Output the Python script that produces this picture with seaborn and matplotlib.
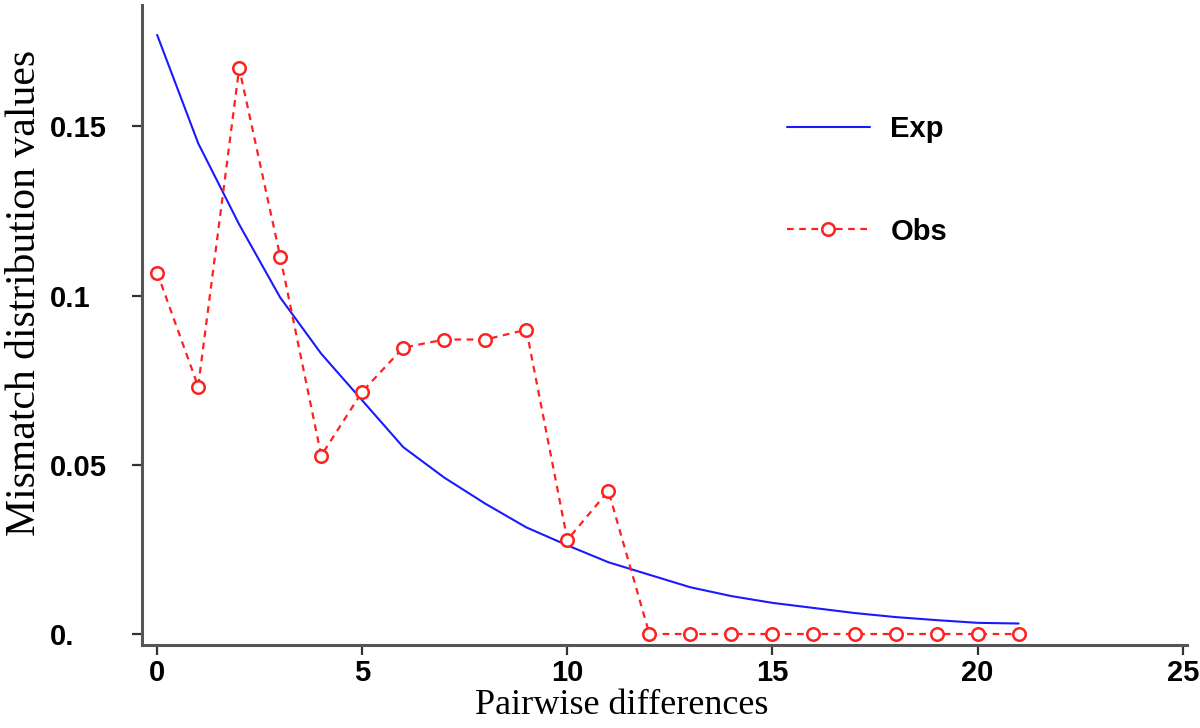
import numpy as np
import pandas as pd
import matplotlib
matplotlib.use("Agg")
import matplotlib.pyplot as plt
import seaborn as sns

# values
pairwise = list(range(22))
exp_values = [0.177, 0.145, 0.121, 0.0994, 0.0828, 0.069, 0.0552, 0.0462,
              0.0385, 0.0315, 0.0262, 0.0212, 0.0175, 0.0138, 0.0112, 0.0092,
              0.0077, 0.0062, 0.0050, 0.0041, 0.0033, 0.0031]
obs_values = [0.1068, 0.0731, 0.1672, 0.1115, 0.0527, 0.0716, 0.0846, 0.087,
              0.087, 0.0899, 0.0278, 0.0423, 0, 0, 0, 0, 0, 0, 0, 0, 0, 0]
x_ticks = [0, 5, 10, 15, 20, 25]
y_ticks = [0, 0.05, 0.1, 0.15]
y_tick_labels = ["0.", "0.05", "0.1", "0.15"]

sns.set_theme(style="ticks")
tick_font = ["Liberation Sans", "DejaVu Sans"]
label_font = ["Liberation Serif", "DejaVu Serif"]

df = pd.DataFrame({"x": pairwise, "Exp": exp_values, "Obs": obs_values})

fig = plt.figure(figsize=(12, 7.28), dpi=100)
ax = fig.add_axes([0.1183, 0.114, 0.8707, 0.879])

sns.lineplot(data=df, x="x", y="Exp", ax=ax, color="#1a1aff", linewidth=1.5,
             label="Exp")
sns.lineplot(data=df, x="x", y="Obs", ax=ax, color="#ff2020", linewidth=1.6,
             linestyle=(0, (3, 2.5)), marker="o", markersize=9,
             markerfacecolor="white", markeredgecolor="#ff2020",
             markeredgewidth=1.8, label="Obs")
sns.scatterplot(data=df, x="x", y="Obs", ax=ax, color="#ff2020", s=5,
                linewidth=0, legend=False)

ax.set_xlim(-0.37, 25.1)
ax.set_ylim(-0.00325, 0.1858)
ax.set_xticks(x_ticks)
ax.set_yticks(y_ticks)
ax.set_yticklabels(y_tick_labels)

for side in ["top", "right"]:
    ax.spines[side].set_visible(False)
for side in ["left", "bottom"]:
    ax.spines[side].set_color("#555555")
    ax.spines[side].set_linewidth(2.2)

ax.tick_params(axis="both", direction="out", length=7, width=1.6,
               color="#333333", labelsize=21)
ax.tick_params(axis="x", pad=3)
ax.tick_params(axis="y", pad=59)
for lab in ax.get_xticklabels() + ax.get_yticklabels():
    lab.set_family(tick_font)
    lab.set_fontweight("bold")
    lab.set_color("black")
for lab in ax.get_yticklabels():
    lab.set_horizontalalignment("left")

ax.set_xlabel("Pairwise differences", fontsize=26, family=label_font,
              color="black")
ax.set_ylabel("Mismatch distribution values", fontsize=30, family=label_font,
              color="black")
ax.xaxis.set_label_coords(0.459, -0.068)
ax.yaxis.set_label_coords(-0.094, 0.55)

leg = ax.legend(loc="upper left", bbox_to_anchor=(0.617, 0.828), frameon=False,
                borderpad=0, borderaxespad=0,
                handlelength=2.86, labelspacing=2.55, handletextpad=0.7,
                prop={"family": tick_font, "weight": "bold", "size": 21})
for txt in leg.get_texts():
    txt.set_color("black")

fig.savefig("out.png", dpi=100)
plt.close(fig)
